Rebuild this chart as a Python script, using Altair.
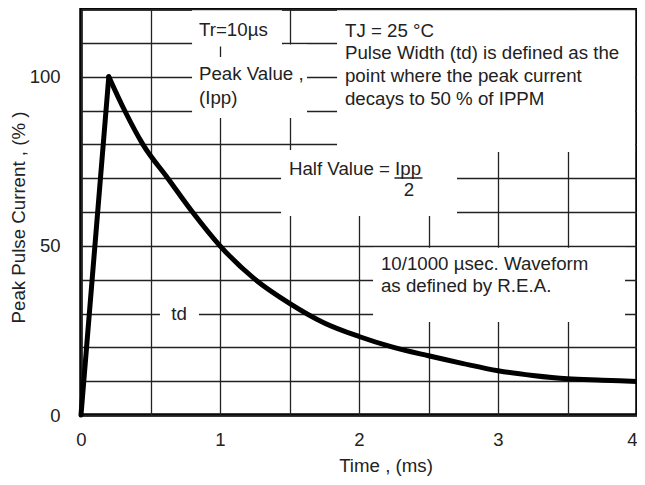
import altair as alt
import pandas as pd

# Curve data (time in ms, current in % of Ipp)
rise_t = [0.0, 0.2]
rise_v = [0.0, 100.0]
decay_t = [0.2, 0.314, 0.445, 0.624, 0.802, 1.0, 1.255, 1.5, 1.75, 2.0, 2.23, 2.5, 2.75, 3.0, 3.25, 3.5, 3.75, 4.0]
decay_v = [100, 90, 80, 70, 60, 50, 40, 33, 27.2, 23.2, 20.2, 17.5, 15.2, 13.1, 11.7, 10.7, 10.3, 9.9]

# Axis ticks / gridlines
x_grid = [0, 0.5, 1, 1.5, 2, 2.5, 3, 3.5, 4]
y_grid = [0, 10, 20, 30, 40, 50, 60, 70, 80, 90, 100, 110, 120]

# Annotation texts (left aligned)
ann_text = ["Tr=10µs", "Peak Value ,", "(Ipp)", "TJ = 25 °C",
            "Pulse Width (td) is defined as the", "point where the peak current",
            "decays to 50 % of IPPM", "Half Value = Ipp",
            "10/1000 µsec. Waveform", "as defined by R.E.A."]
ann_x = [0.849, 0.849, 0.849, 1.899, 1.899, 1.899, 1.899, 1.496, 2.158, 2.158]
ann_y = [113.8, 100.8, 93.7, 113.5, 106.9, 100.2, 93.5, 72.7, 44.5, 38.1]

# Centered annotation texts
cann_text = ["2", "td"]
cann_x = [2.36, 0.705]
cann_y = [66.5, 29.9]

# White boxes behind the annotations (interrupt the grid)
box_x1 = [0.799, 0.799, 1.46, 1.842, 1.439, 2.101, 0.568]
box_x2 = [1.446, 1.626, 1.626, 3.986, 2.705, 3.914, 0.849]
box_y1 = [108.9, 87.8, 104.0, 77.7, 58.8, 27.5, 24.8]
box_y2 = [119.6, 105.8, 109.5, 119.6, 78.3, 49.4, 34.6]

# Underline of "Ipp" in the fraction
ul_x1 = [2.255]
ul_x2 = [2.457]
ul_y = [70.05]

FONT = "Liberation Sans"
TXT = "#222222"

xs = alt.Scale(domain=[0, 4], nice=False)
ys = alt.Scale(domain=[0, 120], nice=False)

x_axis = alt.Axis(values=x_grid, grid=True, gridColor="#222222", gridWidth=1.3,
                  ticks=False, domain=False, labelFlush=False, labelOverlap=False,
                  labelExpr="datum.value % 1 == 0 ? format(datum.value, 'd') : ''",
                  labelAlign={"condition": {"test": "datum.value == 4", "value": "right"},
                              "value": "center"},
                  labelFont=FONT, labelFontSize=18.5, labelColor=TXT, labelPadding=15,
                  title="Time , (ms)", titleFont=FONT, titleFontSize=18.7,
                  titleFontWeight="normal", titleColor=TXT,
                  titleX=304.5, titleY=50, titleAlign="center", titleBaseline="middle")
y_axis = alt.Axis(values=y_grid, grid=True, gridColor="#222222", gridWidth=1.3,
                  ticks=False, domain=False, labelFlush=False, labelOverlap=False,
                  labelExpr="datum.value % 50 == 0 ? format(datum.value, 'd') : ''",
                  labelFont=FONT, labelFontSize=18.5, labelColor=TXT, labelPadding=21,
                  title="Peak Pulse Current , (% )", titleFont=FONT, titleFontSize=18.7,
                  titleFontWeight="normal", titleColor=TXT,
                  titleX=-63, titleY=208, titleAlign="center", titleBaseline="middle",
                  titleAngle=270)

rise = pd.DataFrame({"t": rise_t, "v": rise_v})
decay = pd.DataFrame({"t": decay_t, "v": decay_v})
ann = pd.DataFrame({"text": ann_text, "x": ann_x, "y": ann_y})
cann = pd.DataFrame({"text": cann_text, "x": cann_x, "y": cann_y})
boxes = pd.DataFrame({"x1": box_x1, "x2": box_x2, "y1": box_y1, "y2": box_y2})
ul = pd.DataFrame({"x1": ul_x1, "x2": ul_x2, "y": ul_y})


def X(f):
    return alt.X(f, scale=xs, axis=x_axis)


def Y(f):
    return alt.Y(f, scale=ys, axis=y_axis)


box_layer = alt.Chart(boxes).mark_rect(color="white", strokeWidth=0).encode(
    x=X("x1:Q"), x2="x2:Q", y=Y("y1:Q"), y2="y2:Q")

rise_layer = alt.Chart(rise).mark_line(color="black", strokeWidth=5, strokeCap="round").encode(
    x=X("t:Q"), y=Y("v:Q"))
decay_layer = alt.Chart(decay).mark_line(color="black", strokeWidth=5, strokeCap="round",
                                          interpolate="monotone").encode(
    x=X("t:Q"), y=Y("v:Q"))

text_layer = alt.Chart(ann).mark_text(align="left", baseline="middle", font=FONT,
                                      fontSize=18.7, color=TXT).encode(
    x=X("x:Q"), y=Y("y:Q"), text="text:N")
ctext_layer = alt.Chart(cann).mark_text(align="center", baseline="middle", font=FONT,
                                        fontSize=18.7, color=TXT).encode(
    x=X("x:Q"), y=Y("y:Q"), text="text:N")
ul_layer = alt.Chart(ul).mark_rule(color=TXT, strokeWidth=1.5).encode(
    x=X("x1:Q"), x2="x2:Q", y=Y("y:Q"))

chart = alt.layer(box_layer, rise_layer, decay_layer, text_layer, ctext_layer, ul_layer).properties(
    width=556, height=406,
    autosize=alt.AutoSizeParams(type="none"),
    padding={"left": 73, "top": 1, "right": 0, "bottom": 62},
    background="white",
).configure_view(stroke="black", strokeWidth=3.5)

chart.save("out.html", embed_options={"renderer": "svg", "actions": False})
